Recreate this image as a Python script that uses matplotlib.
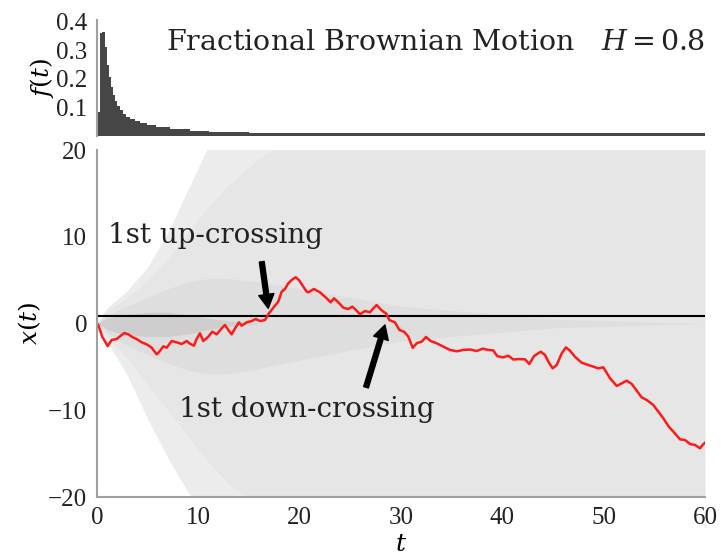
import numpy as np
import matplotlib
matplotlib.use('Agg')
import matplotlib.pyplot as plt

plt.rcParams['font.family'] = 'serif'
plt.rcParams['font.serif'] = ['DejaVu Serif']
plt.rcParams['mathtext.fontset'] = 'dejavuserif'

# histogram of first passage times
hist_edges = [0, 0.26, 0.49, 0.82, 0.99, 1.19, 1.38, 1.58, 1.78, 1.97, 2.24, 2.57, 2.9, 3.23,
              3.72, 4.2, 4.9, 5.86, 7.2, 9.2, 11.1, 15, 20, 25, 30, 35, 40, 45, 50, 55, 60]
hist_vals = [0.085, 0.358, 0.363, 0.311, 0.247, 0.207, 0.172, 0.143, 0.122, 0.106, 0.091,
             0.078, 0.067, 0.059, 0.052, 0.045, 0.038, 0.031, 0.024, 0.018, 0.015, 0.012,
             0.011, 0.010, 0.010, 0.010, 0.0095, 0.0095, 0.0095, 0.0095]

# highlighted path
red_t = [0, 0.13, 0.52, 1.05, 1.45, 1.94, 2.43, 2.7, 3.09, 3.49, 3.91, 4.41, 4.9, 5.4, 5.89,
         6.12, 6.55, 6.88, 7.37, 7.86, 8.36, 8.85, 9.18, 9.57, 9.83, 10.16, 10.49, 10.99,
         11.38, 11.81, 12.3, 12.63, 12.96, 13.29, 13.62, 14.01, 14.28, 14.77, 15.27, 15.66,
         16.09, 16.58, 16.9, 17.4, 17.89, 18.23, 18.55, 18.88, 19.21, 19.6, 19.93, 20.36,
         20.69, 20.86, 21.4, 22.0, 22.6, 23.06, 23.39, 23.82, 24.31, 24.8, 25.2, 25.56,
         25.95, 26.45, 26.94, 27.27, 27.6, 27.93, 28.26, 28.52, 28.85, 29.24, 29.41, 29.84,
         30.3, 30.73, 31.15, 31.58, 32.04, 32.47, 32.93, 33.52, 34.18, 34.84, 35.5, 36.15,
         36.81, 37.47, 38.06, 38.62, 39.11, 39.5, 40.1, 40.59, 41.08, 41.58, 42.24, 42.66,
         43.13, 43.79, 44.21, 44.54, 44.97, 45.37, 45.86, 46.28, 46.68, 47.17, 47.83, 48.49,
         48.98, 49.47, 49.97, 50.63, 51.29, 51.78, 52.28, 52.77, 53.26, 53.75, 54.25, 54.9,
         55.4, 55.89, 56.38, 56.88, 57.54, 58.03, 58.52, 59.02, 59.51, 59.77, 60.0]
red_x = [0.0, -0.17, -1.52, -2.6, -1.9, -1.79, -1.33, -1.1, -1.25, -1.56, -1.79, -2.17, -2.4,
         -2.79, -3.55, -3.3, -2.63, -2.79, -2.02, -2.17, -2.36, -2.02, -2.33, -2.55, -1.79,
         -1.13, -2.02, -1.52, -0.94, -1.25, -0.56, -0.17, -0.75, -1.25, -0.56, 0.13, -0.25,
         0.13, 0.29, 0.52, 0.29, 0.4, 1.06, 1.82, 2.51, 3.67, 3.98, 4.63, 5.01, 5.33, 5.01,
         4.24, 3.67, 3.6, 3.98, 3.6, 2.98, 2.44, 2.9, 2.44, 1.82, 1.67, 1.94, 1.56, 1.06,
         1.44, 1.29, 1.75, 2.13, 1.7, 1.36, 1.18, 0.4, 0.21, 0.13, -0.75, -0.94, -1.52, -2.8,
         -2.25, -2.1, -1.55, -2.02, -2.28, -2.67, -3.05, -3.2, -3.05, -3.0, -3.17, -2.9, -3.05,
         -3.1, -3.77, -3.9, -3.71, -4.15, -4.1, -4.13, -4.67, -3.75, -3.25, -3.63, -4.4, -5.17,
         -4.78, -3.44, -2.75, -3.13, -3.83, -4.52, -4.78, -4.98, -5.17, -5.05, -6.32, -7.2,
         -6.9, -6.59, -6.97, -7.74, -8.51, -8.82, -9.39, -10.17, -10.93, -11.82, -12.47,
         -13.35, -13.43, -13.89, -14.0, -14.39, -14.0, -13.74]

# spread of the gray ensemble of paths, nested bands (outer -> core)
band_t = [0, 0.5, 1, 2, 3, 5, 7, 9, 11, 13, 16, 20, 30, 45, 60]
band_hi = [
    [0, 1.0, 1.8, 2.8, 3.8, 6.5, 10.5, 15.5, 20.5, 22, 22, 22, 22, 22, 22],
    [0, 0.8, 1.4, 2.2, 3.0, 5.0, 7.5, 10.5, 13.5, 16, 19, 22, 22, 22, 22],
    [0, 0.5, 0.9, 1.5, 2.0, 3.0, 4.0, 4.8, 5.2, 5.2, 4.8, 4.0, 2.0, 0.5, 0],
    [0, 0.3, 0.6, 0.9, 1.1, 1.3, 1.3, 1.0, 0.6, 0.3, 0, 0, 0, 0, 0],
]
band_lo = [
    [0, -1.2, -2.2, -4.0, -6.0, -11, -15.5, -19.5, -22, -22, -22, -22, -22, -22, -22],
    [0, -0.9, -1.6, -2.8, -4.0, -7.0, -10, -13, -16, -18.5, -21, -22, -22, -22, -22],
    [0, -0.6, -1.1, -1.8, -2.5, -3.6, -4.6, -5.4, -5.8, -5.8, -5.2, -4.2, -2.0, -0.5, 0],
    [0, -0.3, -0.7, -1.1, -1.3, -1.5, -1.5, -1.2, -0.7, -0.3, 0, 0, 0, 0, 0],
]
band_color = ['#d2d2d2', '#c4c4c4', '#b0b0b0', '#a0a0a0']
band_alpha = [0.42, 0.15, 0.14, 0.25]
threshold = 0.9

fig = plt.figure(figsize=(7.21, 5.56), dpi=100)
ax_top = fig.add_axes([0.1345, 0.7554, 0.8433, 0.2086])
ax = fig.add_axes([0.1345, 0.1061, 0.8433, 0.6241])

# histogram panel
ax_top.stairs(hist_vals, hist_edges, fill=True, color='#464646', lw=0)
ax_top.set_xlim(0, 60)
ax_top.set_ylim(0, 0.405)
ax_top.set_yticks([0.1, 0.2, 0.3, 0.4])
ax_top.set_yticklabels(['0.1', '0.2', '0.3', '0.4'])
ax_top.set_xticks([])
ax_top.set_ylabel('$f(t)$', fontsize=18, labelpad=0)
ax_top.text(1.0, 0.81, 'Fractional Brownian Motion   $H = 0.8$', transform=ax_top.transAxes,
            ha='right', va='center', fontsize=20.5, color='#222222')

# paths panel
for hi, lo, c, al in zip(band_hi, band_lo, band_color, band_alpha):
    ax.fill_between(band_t, lo, hi, color=c, alpha=al, lw=0)
ax.axhline(threshold, color='k', lw=1.5)
ax.plot(red_t, red_x, color='#ff1a1a', lw=1.8)

arrow_style = dict(facecolor='black', edgecolor='black', width=3.5, headwidth=11,
                   headlength=10, shrink=0)
ax.annotate('', xy=(16.9, 1.75), xytext=(16.26, 7.12), arrowprops=arrow_style)
ax.annotate('', xy=(28.42, -0.17), xytext=(26.55, -7.35), arrowprops=arrow_style)
ax.text(1.09, 10.1, '1st up-crossing', fontsize=20, va='center', ha='left', color='#222222')
ax.text(8.1, -9.86, '1st down-crossing', fontsize=20, va='center', ha='left', color='#222222')

ax.set_xlim(0, 60)
ax.set_ylim(-20, 20)
ax.set_xticks([0, 10, 20, 30, 40, 50, 60])
ax.set_yticks([-20, -10, 0, 10, 20])
ax.set_xlabel('$t$', fontsize=18, labelpad=3)
ax.set_ylabel('$x(t)$', fontsize=18, labelpad=4)

for a in (ax, ax_top):
    a.spines['top'].set_visible(False)
    a.spines['right'].set_visible(False)
    a.spines['left'].set_color('#a0a0a0')
    a.spines['bottom'].set_color('#a0a0a0')
    a.spines['left'].set_linewidth(1.5)
    a.spines['bottom'].set_linewidth(1.5)
    a.tick_params(length=0, labelsize=18, pad=7, labelcolor='#222222')
    for lab in a.get_xticklabels() + a.get_yticklabels():
        lab.set_fontfamily('Liberation Serif')
ax_top.spines['bottom'].set_visible(False)

fig.savefig('out.png', dpi=100)
